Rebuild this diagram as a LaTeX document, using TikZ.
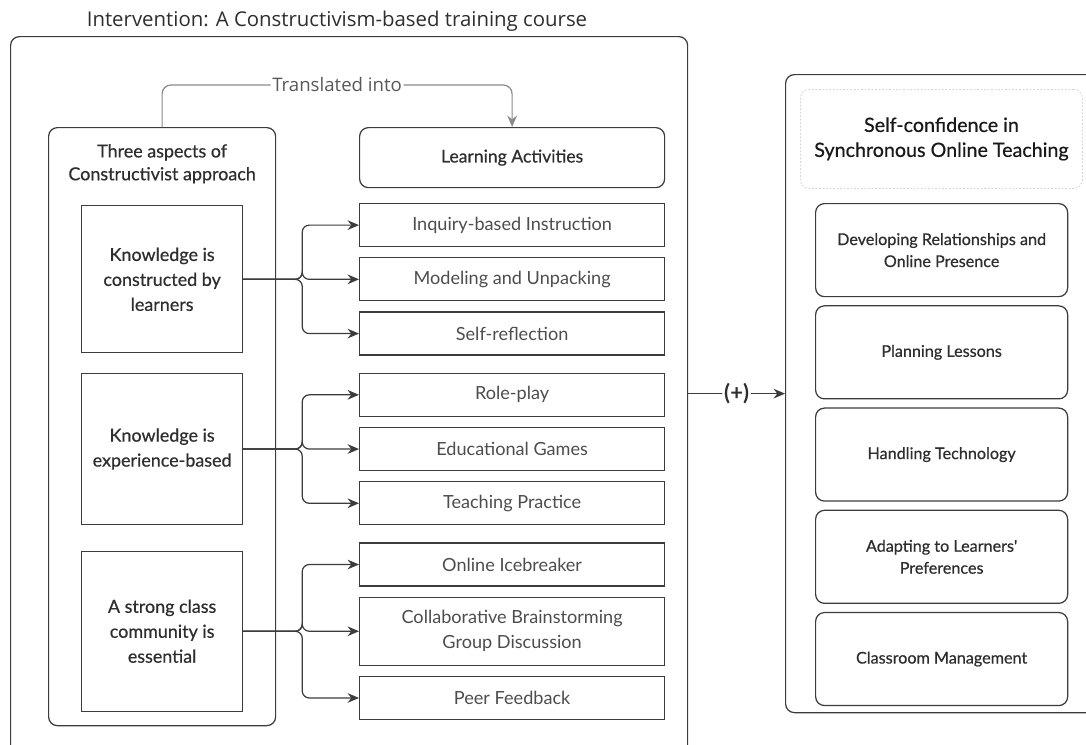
\documentclass[tikz,border=0pt]{standalone}
\usepackage{fontspec}
\setmainfont{Lato}
\newfontfamily\titlefont{Open Sans}
\newfontfamily\semifont{Lato}[FakeBold=0.6]
\usepackage{tikz}
\usetikzlibrary{positioning, arrows.meta}

\definecolor{linegray}{HTML}{3C3C3C}
\definecolor{textgray}{HTML}{2E2E2E}
\definecolor{softgray}{HTML}{8A8A8A}
\definecolor{dashgray}{HTML}{D4D4D4}

\begin{document}
\begin{tikzpicture}[
    node distance=0.2cm,
    frame/.style={rectangle, draw=linegray, line width=0.7pt, rounded corners=5pt, inner sep=0pt},
    aspect/.style={rectangle, draw=linegray, line width=0.7pt, minimum width=3.22cm, align=center, text=textgray, font=\semifont\fontsize{10.2}{14.2}\selectfont},
    activity/.style={rectangle, draw=linegray, line width=0.7pt, minimum width=6.1cm, minimum height=0.86cm, align=center, text=textgray!85, font=\fontsize{10.3}{14.2}\selectfont},
    skill/.style={rectangle, draw=linegray, line width=0.7pt, rounded corners=5pt, minimum width=5.04cm, minimum height=1.86cm, align=center, text=textgray, font=\semifont\fontsize{9.2}{12.5}\selectfont},
    arrow/.style={-{Stealth[length=6.5pt, width=5.5pt]}, line width=0.7pt, draw=linegray, rounded corners=4pt}
]
\useasboundingbox (0,0) rectangle (21.72,-14.88);

% Cadre de la formation
\node[frame, anchor=north west, minimum width=13.54cm, minimum height=14.5cm] (course) at (0.2,-0.72) {};
\node[text=textgray, font=\titlefont\fontsize{11.6}{14}\selectfont] (title) at (6.74,-0.42) {Intervention: A Constructivism-based training course};

% Colonne de gauche
\node[frame, anchor=north west, minimum width=4.54cm, minimum height=11.96cm] (three) at (0.96,-2.54) {};
\node[below=0.22cm of three.north, align=center, text=textgray, font=\semifont\fontsize{10.2}{13}\selectfont] (threetext) {Three aspects of\\Constructivist approach};

% Learning activities
\node[frame, anchor=north west, minimum width=6.1cm, minimum height=1.2cm, text=textgray, font=\semifont\fontsize{10}{13}\selectfont] (learning) at (7.18,-2.54) {Learning Activities};

\node[activity, anchor=north west] (inquiry) at (7.18,-4.06) {Inquiry-based Instruction};
\node[activity, below=of inquiry] (modeling) {Modeling and Unpacking};
\node[activity, below=of modeling] (reflection) {Self-reflection};
\node[activity, below=0.34cm of reflection] (roleplay) {Role-play};
\node[activity, below=of roleplay] (games) {Educational Games};
\node[activity, below=of games] (practice) {Teaching Practice};
\node[activity, below=0.34cm of practice] (icebreaker) {Online Icebreaker};
\node[activity, below=of icebreaker, minimum height=1.36cm] (brainstorm) {Collaborative Brainstorming\\Group Discussion};
\node[activity, below=of brainstorm] (feedback) {Peer Feedback};

\node[aspect, minimum height=2.94cm] (constructed) at (three |- modeling) {Knowledge is\\constructed by\\learners};
\node[aspect, minimum height=3.02cm] (experience) at (three |- games) {Knowledge is\\experience-based};
\node[aspect, minimum height=3.2cm] (community) at (three |- brainstorm) {A strong class\\community is\\essential};

% Self-confidence
\node[frame, anchor=north west, minimum width=6.5cm, minimum height=12.76cm] (confidence) at (15.7,-1.48) {};
\node[rectangle, draw=dashgray, dash pattern=on 1pt off 1pt, line width=0.5pt, rounded corners=5pt, anchor=north west, minimum width=5.64cm, minimum height=1.98cm, align=center, text=black!90, font=\semifont\fontsize{11.2}{14.2}\selectfont] (confhead) at (16.0,-1.78) {Self-confidence in\\Synchronous Online Teaching};

\node[skill, anchor=north west] (relations) at (16.3,-4.06) {Developing Relationships and\\Online Presence};
\node[skill, below=0.16cm of relations] (planning) {Planning Lessons};
\node[skill, below=0.16cm of planning] (technology) {Handling Technology};
\node[skill, below=0.16cm of technology] (adapting) {Adapting to Learners'\\Preferences};
\node[skill, below=0.16cm of adapting] (management) {Classroom Management};

% Arrows
\draw[softgray, line width=0.7pt, rounded corners=5pt, -{Stealth[length=6.5pt, width=5.5pt]}] (three.north) -- ++(0,0.84) -| node[pos=0.25, fill=white, inner xsep=1pt, text=textgray!80, font=\titlefont\fontsize{10.6}{12}\selectfont] {Translated into} (learning.north);

\foreach \dst in {inquiry, modeling, reflection}
    \draw[arrow] (constructed.east) -- ++(1.18,0) |- (\dst.west);
\foreach \dst in {roleplay, games, practice}
    \draw[arrow] (experience.east) -- ++(1.18,0) |- (\dst.west);
\foreach \dst in {icebreaker, brainstorm, feedback}
    \draw[arrow] (community.east) -- ++(1.18,0) |- (\dst.west);

\draw[arrow] (confidence.west -| course.east) -- node[fill=white, inner xsep=1pt, text=textgray, font=\bfseries\fontsize{12.5}{14}\selectfont] {(+)} (confidence.west);

\end{tikzpicture}
\end{document}
